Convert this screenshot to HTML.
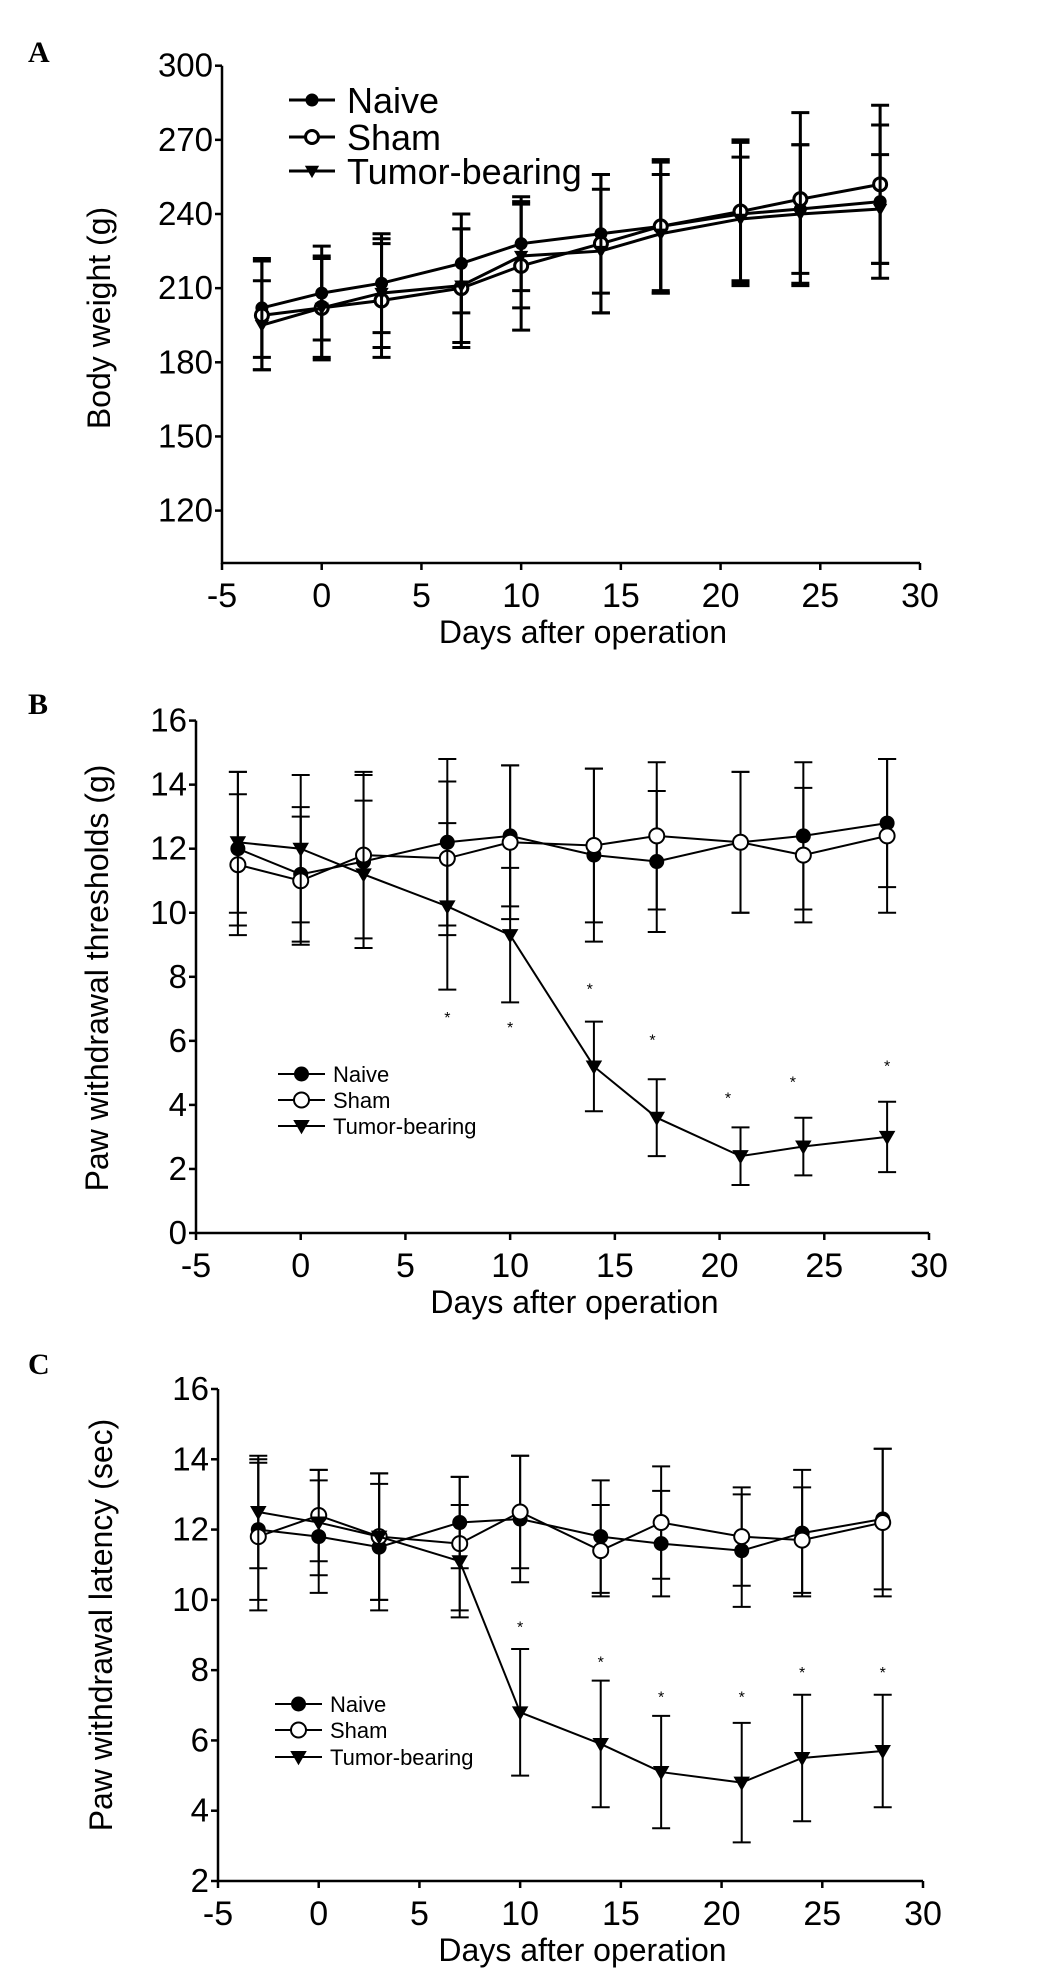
<!DOCTYPE html>
<html><head><meta charset="utf-8">
<style>
html,body{margin:0;padding:0;background:#fff;}
svg{display:block;font-family:"Liberation Sans",Arial,sans-serif;}
</style></head>
<body>
<svg id="fig" width="1048" height="1981" viewBox="0 0 1048 1981" xmlns="http://www.w3.org/2000/svg"></svg>
<script>
const days = [-3,0,3,7,10,14,17,21,24,28];
const xTicks = [-5,0,5,10,15,20,25,30];
const seriesNames = ["Naive","Sham","Tumor-bearing"];

const aTicks = [120,150,180,210,240,270,300];
const aNaive = [202,208,212,220,228,232,235,240,242,245];
const aSham = [199,202,205,210,219,228,235,241,246,252];
const aTumor = [195,202,208,211,223,225,232,238,240,242];
const aNaiveErr = [20,19,20,20,19,24,26,29,26,31];
const aShamErr = [22,21,23,24,26,28,27,29,35,32];
const aTumorErr = [18,20,22,23,21,25,24,25,28,22];

const bTicks = [0,2,4,6,8,10,12,14,16];
const bNaive = [12.0,11.2,11.6,12.2,12.4,11.8,11.6,12.2,12.4,12.8];
const bSham = [11.5,11.0,11.8,11.7,12.2,12.1,12.4,12.2,11.8,12.4];
const bTumor = [12.2,12.0,11.2,10.2,9.3,5.2,3.6,2.4,2.7,3.0];
const bNaiveErr = [2.4,2.1,2.7,2.6,2.2,2.7,2.2,2.2,2.3,2.0];
const bShamErr = [2.2,2.0,2.6,2.4,2.4,2.4,2.3,2.2,2.1,2.4];
const bTumorErr = [2.2,2.3,2.3,2.6,2.1,1.4,1.2,0.9,0.9,1.1];
const bStarX = [7,10,13.8,16.8,20.4,23.5,28];
const bStarY = [6.8,6.5,7.7,6.1,4.3,4.8,5.3];

const cTicks = [2,4,6,8,10,12,14,16];
const cNaive = [12.0,11.8,11.5,12.2,12.3,11.8,11.6,11.4,11.9,12.3];
const cSham = [11.8,12.4,11.8,11.6,12.5,11.4,12.2,11.8,11.7,12.2];
const cTumor = [12.5,12.2,11.8,11.1,6.8,5.9,5.1,4.8,5.5,5.7];
const cNaiveErr = [2.0,1.6,1.8,1.3,1.8,1.6,1.5,1.6,1.8,2.0];
const cShamErr = [2.1,1.3,1.8,1.9,1.6,1.3,1.6,1.4,1.5,2.1];
const cTumorErr = [1.6,1.5,1.8,1.6,1.8,1.8,1.6,1.7,1.8,1.6];
const cStarX = [10,14,17,21,24,28];
const cStarY = [9.3,8.3,7.3,7.3,8.0,8.0];

const NS = "http://www.w3.org/2000/svg";
const svg = document.getElementById("fig");
function mk(tag, attrs, parent, text) {
  const e = document.createElementNS(NS, tag);
  for (const k in attrs) e.setAttribute(k, attrs[k]);
  if (text !== undefined) e.textContent = text;
  (parent || svg).appendChild(e);
  return e;
}

function marker(g, kind, cx, cy, r, sw) {
  let m;
  if (kind === 0) m = mk("circle", {cx: cx, cy: cy, r: r, fill: "#000"}, g);
  else if (kind === 1) m = mk("circle", {cx: cx, cy: cy, r: r, fill: "#fff", stroke: "#000", "stroke-width": sw}, g);
  else m = mk("path", {d: `M${cx-r*1.1},${cy-r*0.8} L${cx+r*1.1},${cy-r*0.8} L${cx},${cy+r*1.1} Z`, fill: "#000"}, g);
  return m;
}

function panel(cfg) {
  const g = mk("g", {});
  
  
  const xs = v => cfg.x0 + (v - (-5)) / 35 * (cfg.x1 - cfg.x0);
  const ys = v => cfg.yB - (v - cfg.ymin) / (cfg.ymax - cfg.ymin) * (cfg.yB - cfg.yT);
  const lbl = mk("text", {x: cfg.labX, y: cfg.labY, "font-family": "Liberation Serif, serif", "font-weight": "bold", "font-size": 30}, g, cfg.label);
  
  
  const axB = cfg.axisBottom;
  const ax = mk("path", {d: `M${cfg.x0},${ys(cfg.ymax)} L${cfg.x0},${axB} L${cfg.x1},${axB}`, fill: "none", stroke: "#000", "stroke-width": 2.5}, g);
  
  
  cfg.yTicks.forEach(t => {
    mk("line", {x1: cfg.x0 - 7, x2: cfg.x0, y1: ys(t), y2: ys(t), stroke: "#000", "stroke-width": 2.5}, g);
    const tx = mk("text", {x: cfg.x0 - 9, y: ys(t) + 11, "text-anchor": "end", "font-size": 33}, g, String(t));
    
    
  });
  xTicks.forEach(t => {
    mk("line", {x1: xs(t), x2: xs(t), y1: axB, y2: axB + 7, stroke: "#000", "stroke-width": 2.5}, g);
    const tx = mk("text", {x: xs(t), y: axB + 44, "text-anchor": "middle", "font-size": 34}, g, String(t));
    
    
  });
  const xt = mk("text", {x: (cfg.x0 + cfg.x1) / 2 + 12, y: axB + 80, "text-anchor": "middle", "font-size": 32}, g, "Days after operation");
  
  
  const yt = mk("text", {x: 0, y: 0, "text-anchor": "middle", "font-size": 32, transform: `translate(${cfg.ytX},${cfg.ytY}) rotate(-90)`}, g, cfg.yTitle);
  
  

  const data = [cfg.naive, cfg.sham, cfg.tumor];
  const errs = [cfg.naiveErr, cfg.shamErr, cfg.tumorErr];
  data.forEach((vals, si) => {
    const sg = mk("g", {}, g);
    
    
    vals.forEach((v, i) => {
      const x = xs(days[i]), up = ys(v + errs[si][i]), dn = ys(v - errs[si][i]);
      const eb = mk("path", {d: `M${x},${up} L${x},${dn} M${x-9},${up} L${x+9},${up} M${x-9},${dn} L${x+9},${dn}`, stroke: "#000", "stroke-width": cfg.sw, fill: "none"}, sg);
      
      
    });
    const d = vals.map((v, i) => (i ? "L" : "M") + xs(days[i]) + "," + ys(v)).join(" ");
    const ln = mk("path", {d: d, fill: "none", stroke: "#000", "stroke-width": cfg.sw}, sg);
    
    
    vals.forEach((v, i) => {
      const m = marker(sg, si, xs(days[i]), ys(v), cfg.r, cfg.sw);
      
      
    });
  });
  if (cfg.starX) cfg.starX.forEach((sx, i) => {
    const s = mk("text", {x: xs(sx), y: ys(cfg.starY[i]) + 8, "text-anchor": "middle", "font-size": 16}, g, "*");
    
    
  });
  seriesNames.forEach((n, i) => {
    const lg = mk("g", {}, g);
    
    
    const y = cfg.legY[i];
    mk("line", {x1: cfg.legX0, x2: cfg.legX1, y1: y, y2: y, stroke: "#000", "stroke-width": cfg.sw}, lg);
    marker(lg, i, (cfg.legX0 + cfg.legX1) / 2, y, cfg.r, cfg.sw);
    mk("text", {x: cfg.legTX, y: y + cfg.legFS * 0.36, "font-size": cfg.legFS}, lg, n);
  });
}

panel({name: "panel-a-body-weight", label: "A", labX: 28, labY: 62, x0: 222, x1: 920, yT: 65.7, yB: 510.6, ymin: 120, ymax: 300, axisBottom: 563,
  yTicks: aTicks, yTitle: "Body weight (g)", ytX: 110, ytY: 318, naive: aNaive, sham: aSham, tumor: aTumor,
  naiveErr: aNaiveErr, shamErr: aShamErr, tumorErr: aTumorErr, sw: 3, r: 6.5,
  legX0: 289, legX1: 335, legTX: 347, legY: [100, 137, 171], legFS: 36});
panel({name: "panel-b-withdrawal-threshold", label: "B", labX: 28, labY: 714, x0: 196, x1: 929, yT: 720.6, yB: 1233, ymin: 0, ymax: 16, axisBottom: 1233,
  yTicks: bTicks, yTitle: "Paw withdrawal thresholds (g)", ytX: 108, ytY: 978, naive: bNaive, sham: bSham, tumor: bTumor,
  naiveErr: bNaiveErr, shamErr: bShamErr, tumorErr: bTumorErr, starX: bStarX, starY: bStarY, sw: 2, r: 7.5,
  legX0: 278, legX1: 325, legTX: 333, legY: [1074, 1100, 1126], legFS: 22});
panel({name: "panel-c-withdrawal-latency", label: "C", labX: 28, labY: 1374, x0: 218, x1: 923, yT: 1389, yB: 1881, ymin: 2, ymax: 16, axisBottom: 1881,
  yTicks: cTicks, yTitle: "Paw withdrawal latency (sec)", ytX: 112, ytY: 1625, naive: cNaive, sham: cSham, tumor: cTumor,
  naiveErr: cNaiveErr, shamErr: cShamErr, tumorErr: cTumorErr, starX: cStarX, starY: cStarY, sw: 2, r: 7.5,
  legX0: 275, legX1: 322, legTX: 330, legY: [1704, 1730, 1757], legFS: 22});
</script>
</body></html>
